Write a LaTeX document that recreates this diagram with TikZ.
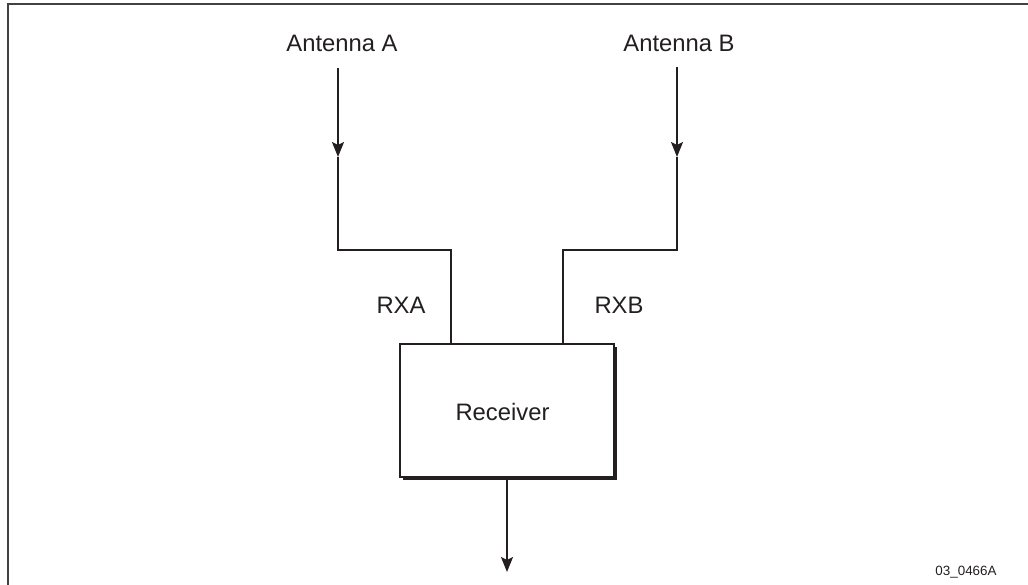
\documentclass[tikz,border=0pt]{standalone}
\usepackage{fontspec}
\setmainfont{Liberation Sans}
\usetikzlibrary{arrows.meta}
\definecolor{ink}{HTML}{231F20}
\begin{document}
\begin{tikzpicture}[x=1pt,y=-1pt,
  wire/.style={draw=ink,line width=2pt},
  arr/.style={wire,-{Stealth[length=15pt,width=12pt,inset=3pt]}},
  lbl/.style={inner sep=0pt,anchor=base,text=ink,font=\fontsize{23.8}{28}\selectfont},
  tag/.style={inner sep=0pt,anchor=base,text=ink,font=\fontsize{13.4}{16}\selectfont}]
\useasboundingbox (0,0) rectangle (1028,585);
% frame
\draw[draw=ink!85,line width=2pt] (8,585) -- (8,4) -- (1028,4);
% labels
\node[lbl] (antA) at (342,52) {Antenna A};
\node[lbl] (antB) at (679,52) {Antenna B};
\node[lbl] (rxa) at (401,313) {RXA};
\node[lbl] (rxb) at (619,313) {RXB};
\node[tag] (code) at (966,575) {03\_0466A};
% receiver box with shadow
\fill[ink] (403,347) rectangle (617,480);
\node[draw=ink,fill=white,line width=2pt,minimum width=214pt,minimum height=133pt,inner sep=0pt,anchor=north west] (rx) at (399,343) {};
\node[lbl] (rxtext) at (502.5,420) {Receiver};
% coordinates
\coordinate (a0) at (338,68);
\coordinate (a1) at (338,157);
\coordinate (a2) at (338,250);
\coordinate (a3) at (451,250);
\coordinate (a4) at (451,343);
\coordinate (b0) at (677,67);
\coordinate (b1) at (677,157);
\coordinate (b2) at (677,250);
\coordinate (b3) at (563,250);
\coordinate (b4) at (563,343);
\coordinate (o0) at (507,480);
\coordinate (o1) at (507,572);
% connectors
\draw[arr] (a0) -- (a1);
\draw[wire] (a1) -- (a2) -- (a3) -- (a4);
\draw[arr] (b0) -- (b1);
\draw[wire] (b1) -- (b2) -- (b3) -- (b4);
\draw[arr] (o0) -- (o1);
\end{tikzpicture}
\end{document}
